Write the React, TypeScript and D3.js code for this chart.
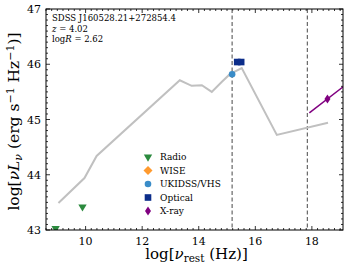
import { useEffect, useRef } from "react";
import * as d3 from "d3";

// SED template (gray line)
const sedX = [9.04, 9.96, 10.39, 13.33, 13.75, 14.11, 14.46, 14.81, 15.10, 15.52, 16.76, 18.57];
const sedY = [43.49, 43.94, 44.34, 45.71, 45.61, 45.62, 45.50, 45.68, 45.82, 45.93, 44.72, 44.94];

const radioX = [8.94, 9.89];
const radioY = [43.03, 43.42];
const ukidssX = [15.18];
const ukidssY = [45.82];
const opticalX = [15.36, 15.5];
const opticalY = [46.04, 46.04];
const xrayX = [18.55];
const xrayY = [45.37];
const xrayLineX = [17.91, 19.2];
const xrayLineY = [45.12, 45.63];
const vlines = [15.18, 17.84];

const xTicks = [10, 12, 14, 16, 18];
const yTicks = [43, 44, 45, 46, 47];
const legendLabels = ["Radio", "WISE", "UKIDSS/VHS", "Optical", "X-ray"];
const legendColors = ["#2b8a3e", "#ff9a2e", "#3a8cc8", "#0c2d8a", "#800080"];
const infoLines = ["SDSS J160528.21+272854.4", "z = 4.02", "logR = 2.62"];

const W = 349, H = 272;
const margin = { top: 9, right: 6, bottom: 42, left: 46 };
const FONT = "DejaVu Serif";

export default function App() {
  const ref = useRef<SVGSVGElement | null>(null);

  useEffect(() => {
    if (!ref.current) return;
    const svg = d3.select(ref.current);
    svg.selectAll("*").remove();
    const w = W - margin.left - margin.right;
    const h = H - margin.top - margin.bottom;

    const x = d3.scaleLinear().domain([8.6, 19.1]).range([0, w]);
    const y = d3.scaleLinear().domain([43, 47]).range([h, 0]);

    const g = svg.append("g").attr("transform", `translate(${margin.left},${margin.top})`);
    svg.append("defs").append("clipPath").attr("id", "clip")
      .append("rect").attr("width", w).attr("height", h);

    // ticks inward on all sides
    const xMinor = d3.range(8.6, 19.11, 0.2).filter(v => Math.abs(v - Math.round(v / 2) * 2) > 1e-6);
    const yMinor = d3.range(43, 47.001, 0.1).filter(v => Math.abs(v - Math.round(v)) > 1e-6);
    const tickG = g.append("g").attr("stroke", "#000").attr("stroke-width", 0.8);
    [0, h].forEach((yy, i) => {
      const dir = i === 0 ? 1 : -1;
      xTicks.forEach(t => tickG.append("line").attr("x1", x(t)).attr("x2", x(t)).attr("y1", yy).attr("y2", yy + dir * 4));
      xMinor.forEach(t => tickG.append("line").attr("x1", x(t)).attr("x2", x(t)).attr("y1", yy).attr("y2", yy + dir * 2));
    });
    [0, w].forEach((xx, i) => {
      const dir = i === 0 ? 1 : -1;
      yTicks.forEach(t => tickG.append("line").attr("y1", y(t)).attr("y2", y(t)).attr("x1", xx).attr("x2", xx + dir * 4));
      yMinor.forEach(t => tickG.append("line").attr("y1", y(t)).attr("y2", y(t)).attr("x1", xx).attr("x2", xx + dir * 2));
    });

    g.selectAll(".xl").data(xTicks).enter().append("text")
      .attr("x", d => x(d)).attr("y", h + 15).attr("text-anchor", "middle")
      .attr("font-family", FONT).attr("font-size", 11).text(d => d);
    g.selectAll(".yl").data(yTicks).enter().append("text")
      .attr("x", -5).attr("y", d => y(d) + 4).attr("text-anchor", "end")
      .attr("font-family", FONT).attr("font-size", 11).text(d => d);

    const plot = g.append("g").attr("clip-path", "url(#clip)");

    vlines.forEach(v => plot.append("line").attr("x1", x(v)).attr("x2", x(v)).attr("y1", 0).attr("y2", h)
      .attr("stroke", "#666").attr("stroke-width", 1.2).attr("stroke-dasharray", "4,2.5"));

    const line = d3.line<number>().x((_, i) => x(sedX[i])).y(d => y(d));
    plot.append("path").datum(sedY).attr("fill", "none").attr("stroke", "#c0c0c0")
      .attr("stroke-width", 2).attr("d", line as any);

    const xl = d3.line<number>().x((_, i) => x(xrayLineX[i])).y(d => y(d));
    plot.append("path").datum(xrayLineY).attr("fill", "none").attr("stroke", legendColors[4])
      .attr("stroke-width", 1.5).attr("d", xl as any);

    const tri = d3.symbol().type(d3.symbolTriangle).size(30);
    radioX.forEach((v, i) => plot.append("path").attr("d", tri() as string)
      .attr("transform", `translate(${x(v)},${y(radioY[i])}) rotate(180)`).attr("fill", legendColors[0]));
    ukidssX.forEach((v, i) => plot.append("circle").attr("cx", x(v)).attr("cy", y(ukidssY[i])).attr("r", 3.3)
      .attr("fill", legendColors[2]));
    opticalX.forEach((v, i) => plot.append("rect").attr("x", x(v) - 3.3).attr("y", y(opticalY[i]) - 3.3)
      .attr("width", 6.6).attr("height", 6.6).attr("fill", legendColors[3]));
    const dia = "M0,-4.5L3,0L0,4.5L-3,0Z";
    xrayX.forEach((v, i) => plot.append("path").attr("d", dia)
      .attr("transform", `translate(${x(v)},${y(xrayY[i])})`).attr("fill", legendColors[4]));

    g.append("rect").attr("width", w).attr("height", h).attr("fill", "none")
      .attr("stroke", "#000").attr("stroke-width", 1);

    // info text
    infoLines.forEach((t, i) => {
      const tx = g.append("text").attr("x", 6).attr("y", 12 + i * 10.5)
        .attr("font-family", FONT).attr("font-size", 8.5);
      if (i === 0) tx.text(t);
      else if (i === 1) { tx.append("tspan").attr("font-style", "italic").text("z"); tx.append("tspan").text(" = 4.02"); }
      else { tx.append("tspan").text("log"); tx.append("tspan").attr("font-style", "italic").text("R"); tx.append("tspan").text(" = 2.62"); }
    });

    // legend
    const lg = g.append("g").attr("transform", `translate(${148 - margin.left},${157 - margin.top})`);
    legendLabels.forEach((lab, i) => {
      const yy = i * 13.5;
      const c = legendColors[i];
      if (i === 0) lg.append("path").attr("d", tri() as string).attr("transform", `translate(0,${yy}) rotate(180)`).attr("fill", c);
      if (i === 1) lg.append("path").attr("d", "M0,-4.5L4.5,0L0,4.5L-4.5,0Z").attr("transform", `translate(0,${yy})`).attr("fill", c);
      if (i === 2) lg.append("circle").attr("cx", 0).attr("cy", yy).attr("r", 3.3).attr("fill", c);
      if (i === 3) lg.append("rect").attr("x", -3.3).attr("y", yy - 3.3).attr("width", 6.6).attr("height", 6.6).attr("fill", c);
      if (i === 4) lg.append("path").attr("d", dia).attr("transform", `translate(0,${yy})`).attr("fill", c);
      lg.append("text").attr("x", 12).attr("y", yy + 3).attr("font-family", FONT).attr("font-size", 9).text(lab);
    });

    // axis labels
    const xlab = svg.append("text").attr("x", margin.left + w / 2 + 2).attr("y", 259).attr("text-anchor", "middle")
      .attr("font-family", FONT).attr("font-size", 15);
    xlab.append("tspan").text("log[");
    xlab.append("tspan").attr("font-style", "italic").text("ν");
    xlab.append("tspan").attr("font-size", 10.5).attr("dy", 3).text("rest");
    xlab.append("tspan").attr("dy", -3).text(" (Hz)]");

    const ylab = svg.append("text").attr("transform", `translate(19,${margin.top + h / 2 + 2}) rotate(-90)`)
      .attr("text-anchor", "middle").attr("font-family", FONT).attr("font-size", 15.5);
    ylab.append("tspan").text("log[");
    ylab.append("tspan").attr("font-style", "italic").text("νL");
    ylab.append("tspan").attr("font-style", "italic").attr("font-size", 11).attr("dy", 3).text("ν");
    ylab.append("tspan").attr("dy", -3).text(" (erg s");
    ylab.append("tspan").attr("font-size", 11).attr("dy", -5).text("−1");
    ylab.append("tspan").attr("dy", 5).text(" Hz");
    ylab.append("tspan").attr("font-size", 11).attr("dy", -5).text("−1");
    ylab.append("tspan").attr("dy", 5).text(")]");
  }, []);

  return <svg ref={ref} width={W} height={H} style={{ display: "block", position: "absolute", left: 0, top: 0, background: "#fff" }} />;
}
